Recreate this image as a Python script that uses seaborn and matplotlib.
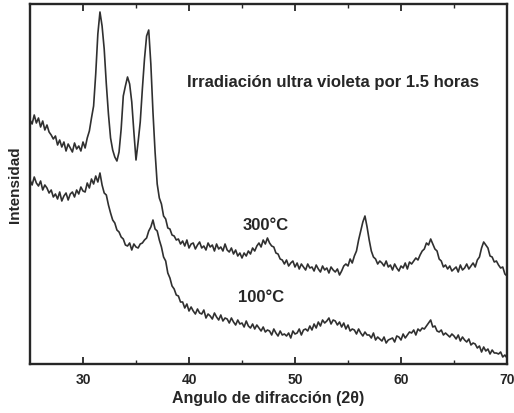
import numpy as np
import pandas as pd
import matplotlib
matplotlib.use("Agg")
import matplotlib.pyplot as plt
import seaborn as sns

# Diffraction angle grid (2-theta, degrees), 0.2 degree steps
two_theta_start = 25.0
two_theta_step = 0.2

# Intensity (arbitrary units), sample annealed at 300 C
int_300 = [
    244, 240, 249, 241, 246, 237, 243, 234, 239, 232,
    229, 225, 228, 219, 224, 217, 222, 213, 220, 216,
    212, 221, 215, 218, 213, 222, 216, 226, 233, 246,
    258, 290, 330, 352, 338, 315, 280, 250, 226, 214,
    207, 203, 212, 235, 268, 278, 287, 280, 262, 232,
    204, 222, 242, 275, 305, 328, 334, 300, 252, 212,
    180, 166, 160, 148, 145, 136, 135, 129, 128, 124,
    125, 120, 123, 118, 124, 116, 120, 121, 115, 119,
    122, 116, 118, 114, 121, 117, 119, 113, 120, 115,
    117, 113, 120, 114, 112, 116, 110, 114, 108, 111,
    106, 111, 108, 113, 110, 116, 113, 118, 121, 117,
    124, 120, 126, 121, 118, 117, 111, 110, 105, 104,
    100, 104, 98, 101, 103, 97, 101, 95, 100, 97,
    94, 100, 96, 97, 93, 99, 95, 92, 98, 94,
    96, 91, 97, 94, 92, 95, 89, 93, 98, 100,
    98, 105, 101, 108, 113, 124, 133, 142, 148, 137,
    124, 113, 107, 105, 100, 103, 101, 98, 103, 97,
    99, 94, 100, 96, 93, 98, 96, 101, 95, 102,
    100, 103, 106, 104, 109, 113, 115, 121, 119, 125,
    120, 115, 113, 105, 103, 97, 99, 95, 98, 93,
    95, 97, 92, 99, 94, 96, 100, 95, 98, 101,
    97, 104, 107, 116, 122, 119, 116, 108, 107, 102,
    103, 99, 96, 97, 90, 88,
]

# Intensity (arbitrary units), sample annealed at 100 C
int_100 = [
    184, 179, 187, 181, 178, 183, 174, 179, 176, 171,
    174, 167, 170, 165, 172, 163, 168, 171, 164, 170,
    172, 167, 174, 170, 177, 173, 172, 181, 176, 185,
    180, 188, 182, 191, 179, 171, 169, 159, 151, 144,
    141, 134, 132, 127, 125, 119, 118, 121, 114, 120,
    117, 116, 120, 121, 124, 126, 133, 137, 144, 135,
    133, 124, 117, 107, 103, 91, 86, 78, 75, 69,
    68, 62, 62, 56, 60, 53, 57, 53, 50, 55,
    51, 50, 54, 46, 50, 48, 45, 51, 47, 44,
    49, 43, 46, 45, 41, 46, 42, 39, 44, 40,
    41, 37, 43, 38, 36, 40, 35, 39, 36, 33,
    37, 32, 34, 33, 29, 35, 31, 28, 33, 29,
    30, 28, 31, 26, 33, 30, 31, 35, 29, 34,
    35, 33, 38, 34, 40, 36, 42, 38, 44, 41,
    43, 46, 40, 44, 43, 39, 42, 37, 41, 35,
    39, 33, 35, 34, 30, 35, 31, 28, 32, 29,
    29, 26, 31, 24, 27, 25, 23, 27, 21, 24,
    25, 26, 22, 28, 27, 24, 30, 26, 29, 32,
    31, 34, 29, 35, 33, 36, 35, 38, 41, 44,
    37, 38, 33, 32, 34, 29, 31, 29, 27, 30,
    28, 25, 29, 23, 27, 24, 22, 25, 19, 21,
    20, 16, 18, 12, 17, 13, 15, 10, 14, 11,
    11, 10, 12, 7, 9, 6,
]

series_labels = ["300°C", "100°C"]
x_ticks = [30, 40, 50, 60, 70]
title_text = "Irradiación ultra violeta por 1.5 horas"
x_label = "Angulo de difracción (2θ)"
y_label = "Intensidad"

two_theta = two_theta_start + two_theta_step * np.arange(len(int_300))

df = pd.concat([
    pd.DataFrame({"two_theta": two_theta, "intensity": int_300, "sample": series_labels[0]}),
    pd.DataFrame({"two_theta": two_theta, "intensity": int_100, "sample": series_labels[1]}),
])

sns.set_style("ticks")
plt.rcParams["font.family"] = ["Liberation Sans", "DejaVu Sans"]

ink = "#262626"

fig = plt.figure(figsize=(5.14, 4.14), dpi=100)
ax = fig.add_axes([30 / 514, 1 - 365 / 414, 477 / 514, 360 / 414])

sns.lineplot(data=df, x="two_theta", y="intensity", units="sample", estimator=None,
             color="#303030", linewidth=1.2, ax=ax, legend=False)

ax.set_xlim(25, 70)
ax.set_ylim(0, 360)
ax.set_xticks(x_ticks)
ax.set_xticks(np.arange(35, 70, 10), minor=True)
ax.set_yticks([])
ax.tick_params(axis="x", which="major", direction="in", length=5, width=1.3,
               top=True, bottom=True, labelsize=10, colors=ink, pad=6)
ax.tick_params(axis="x", which="minor", direction="in", length=3, width=1.0,
               top=True, bottom=True)
for lbl in ax.get_xticklabels():
    lbl.set_fontweight("bold")
for side in ["left", "right", "top", "bottom"]:
    ax.spines[side].set_visible(True)
    ax.spines[side].set_linewidth(1.7)
    ax.spines[side].set_color(ink)

ax.set_xlabel(x_label, fontsize=11.5, fontweight="bold", color=ink, labelpad=3)
ax.set_ylabel(y_label, fontsize=11, fontweight="bold", color=ink, labelpad=6)

ax.text(39.8, 283, title_text, fontsize=12.1, fontweight="bold", color=ink,
        va="center", ha="left")
ax.text(45.1, 139, series_labels[0], fontsize=12, fontweight="bold", color=ink,
        va="center", ha="left")
ax.text(44.6, 68, series_labels[1], fontsize=12, fontweight="bold", color=ink,
        va="center", ha="left")

fig.savefig("out.png", dpi=100)
